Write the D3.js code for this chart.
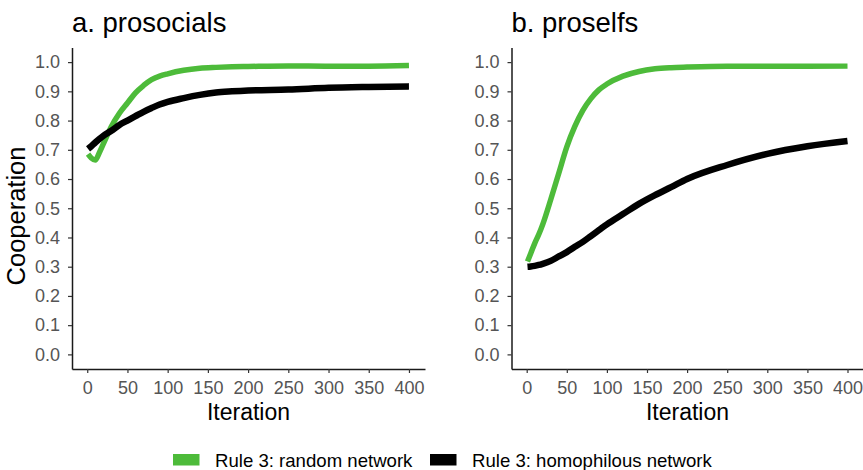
<!DOCTYPE html>
<html>
<head>
<meta charset="utf-8">
<script src="https://cdn.jsdelivr.net/npm/d3@7"></script>
<style>
    html, body { margin: 0; padding: 0; background: #fff; }
    .chart { width: 863px; height: 470px; }
    text { font-family: "Liberation Sans", Arial, sans-serif; }
</style>
</head>
<body>
<div class="chart"></div>
<script>
const iterations = [1, 5, 10, 15, 20, 30, 40, 50, 60, 70, 80, 90, 100, 120, 140, 160, 180, 200, 250, 300, 350, 400];

const prosocialRandom = [0.685, 0.672, 0.665, 0.690, 0.720, 0.780, 0.825, 0.860, 0.895, 0.920, 0.940, 0.952, 0.960, 0.972, 0.979, 0.982, 0.984, 0.985, 0.987, 0.986, 0.986, 0.988];
const prosocialHomophilous = [0.703, 0.712, 0.725, 0.737, 0.748, 0.765, 0.785, 0.800, 0.815, 0.830, 0.843, 0.855, 0.864, 0.877, 0.888, 0.896, 0.900, 0.903, 0.906, 0.912, 0.915, 0.917];
const proselfRandom = [0.318, 0.345, 0.380, 0.410, 0.445, 0.530, 0.620, 0.710, 0.780, 0.835, 0.875, 0.905, 0.925, 0.952, 0.968, 0.977, 0.981, 0.983, 0.986, 0.986, 0.986, 0.987];
const proselfHomophilous = [0.300, 0.301, 0.303, 0.306, 0.310, 0.320, 0.335, 0.350, 0.368, 0.385, 0.405, 0.425, 0.445, 0.480, 0.515, 0.545, 0.572, 0.600, 0.648, 0.686, 0.712, 0.730];

const xTicks = [0, 50, 100, 150, 200, 250, 300, 350, 400];
const yTicks = [0, 0.1, 0.2, 0.3, 0.4, 0.5, 0.6, 0.7, 0.8, 0.9, 1.0];

const panelTitles = ['a. prosocials', 'b. proselfs'];
const seriesNames = ['Rule 3: random network', 'Rule 3: homophilous network'];
const seriesColors = ['#4dbb3a', '#000000'];

(function () {
    'use strict';

    const svg = d3.select('.chart').append('svg')
        .attr('width', 863).attr('height', 470);

    const y = d3.scaleLinear().domain([-0.05, 1.05]).range([369, 47.5]);

    const panels = [
        { title: panelTitles[0], range: [72, 425], series: [prosocialRandom, prosocialHomophilous] },
        { title: panelTitles[1], range: [511.5, 863.5], series: [proselfRandom, proselfHomophilous] }
    ];

    panels.forEach(function (p) {
        const x = d3.scaleLinear().domain([-18.95, 419.95]).range(p.range);
        const g = svg.append('g');

        // lines
        const line = d3.line()
            .x(function (d, i) { return x(iterations[i]); })
            .y(function (d) { return y(d); })
            .curve(d3.curveMonotoneX);

        p.series.forEach(function (values, i) {
            g.append('path')
                .datum(values)
                .attr('d', line)
                .attr('fill', 'none')
                .attr('stroke', seriesColors[i])
                .attr('stroke-width', i === 0 ? 5.5 : 6.5)
                .attr('stroke-linecap', 'butt')
                .attr('stroke-linejoin', 'round');
        });

        // axes
        const xAxis = g.append('g').attr('transform', 'translate(0,369)')
            .call(d3.axisBottom(x).tickValues(xTicks).tickSize(4).tickPadding(8.5).tickSizeOuter(0));
        const yAxis = g.append('g').attr('transform', 'translate(' + p.range[0] + ',0)')
            .call(d3.axisLeft(y).tickValues(yTicks).tickFormat(d3.format('.1f')).tickSize(4).tickPadding(8).tickSizeOuter(0));

        [xAxis, yAxis].forEach(function (a) {
            a.select('.domain').attr('stroke', '#1a1a1a').attr('stroke-width', 1.5);
            a.selectAll('.tick line').attr('stroke', '#333').attr('stroke-width', 1.2);
            a.selectAll('.tick text').attr('fill', '#555').style('font-size', '18px')
                .style('font-family', '"Liberation Sans", Arial, sans-serif');
        });

        g.append('text')
            .attr('x', p.range[0]).attr('y', 32)
            .style('font-size', '27.5px').attr('fill', '#000')
            .text(p.title);

        g.append('text')
            .attr('x', (p.range[0] + p.range[1]) / 2).attr('y', 420)
            .attr('text-anchor', 'middle')
            .style('font-size', '23px').attr('fill', '#000')
            .text('Iteration');
    });

    svg.append('text')
        .attr('transform', 'translate(25,216) rotate(-90)')
        .attr('text-anchor', 'middle')
        .style('font-size', '25.5px').attr('fill', '#000')
        .text('Cooperation');

    // legend
    const legendX = [173, 430];
    const legend = svg.append('g').selectAll('g').data(seriesNames)
        .enter().append('g')
        .attr('transform', function (d, i) { return 'translate(' + legendX[i] + ',454)'; });

    legend.append('rect')
        .attr('width', 26.5).attr('height', 11.5)
        .attr('fill', function (d, i) { return seriesColors[i]; });

    legend.append('text')
        .attr('x', 42).attr('y', 12.5)
        .style('font-size', '18.6px').attr('fill', '#000')
        .text(function (d) { return d; });
}());
</script>
</body>
</html>
